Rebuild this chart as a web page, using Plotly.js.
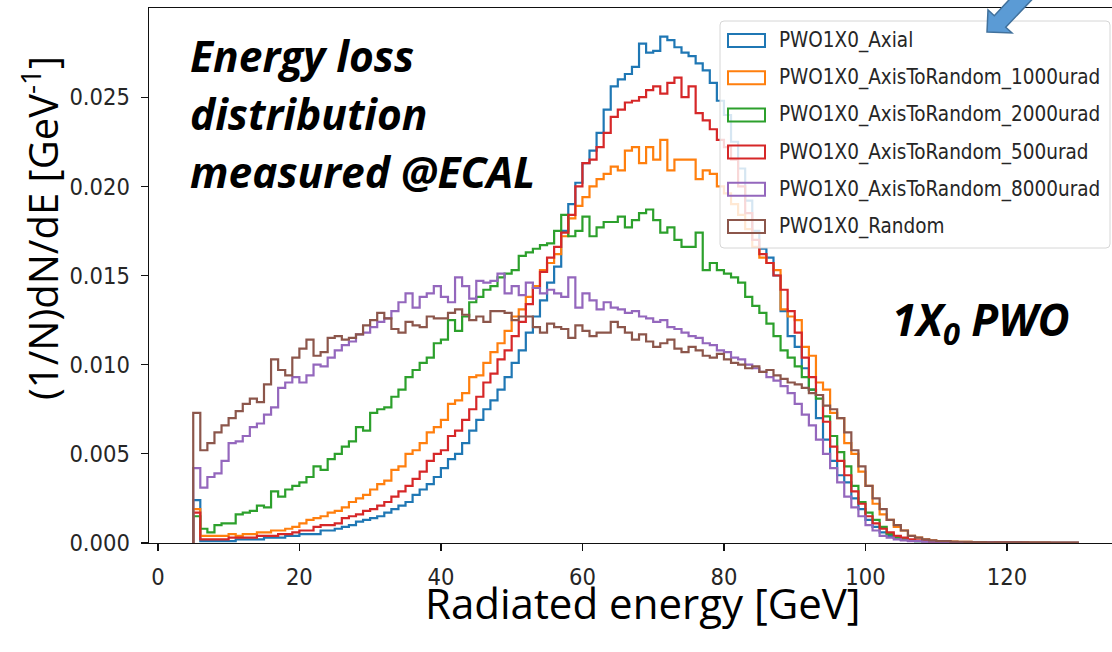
<!DOCTYPE html>
<html>
<head>
<meta charset="utf-8">
<script src="https://cdn.plot.ly/plotly-3.0.1.min.js"></script>
<style>
  html, body { margin: 0; padding: 0; background: #fff; overflow: hidden; }
  #chart { width: 1130px; height: 652px; }
</style>
</head>
<body>
<div id="chart"></div>
<script>
// Energy-loss histograms, 1 GeV bins from 5 to 130 GeV
const binStart = 5;
const binWidth = 1;

const seriesNames = [
  'PWO1X0_Axial',
  'PWO1X0_AxisToRandom_1000urad',
  'PWO1X0_AxisToRandom_2000urad',
  'PWO1X0_AxisToRandom_500urad',
  'PWO1X0_AxisToRandom_8000urad',
  'PWO1X0_Random'
];

const axial = [
  0.0024, 0.0001, 0.0001, 0.0001, 0.0001, 0.0001, 0.0002, 0.0002, 0.0002, 0.0002,
  0.0003, 0.0003, 0.0003, 0.0004, 0.0004, 0.0005, 0.0005, 0.0005, 0.0007, 0.0007,
  0.0008, 0.0009, 0.0010, 0.0012, 0.0013, 0.0014, 0.0015, 0.0017, 0.0019, 0.0021,
  0.0023, 0.0027, 0.0030, 0.0033, 0.0037, 0.0042, 0.0047, 0.0050, 0.0056, 0.0063,
  0.0069, 0.0075, 0.0080, 0.0086, 0.0093, 0.0101, 0.0108, 0.0118, 0.0127, 0.0136,
  0.0146, 0.0155, 0.0175, 0.0190, 0.0202, 0.0213, 0.0220, 0.0230, 0.0243, 0.0256,
  0.0260, 0.0263, 0.0267, 0.0280, 0.0275, 0.0276, 0.0284, 0.0282, 0.0278, 0.0275,
  0.0273, 0.0269, 0.0265, 0.0258, 0.0248, 0.0240, 0.0225, 0.0210, 0.0192, 0.0175,
  0.0165, 0.0160, 0.0150, 0.0130, 0.0116, 0.0110, 0.0098, 0.0086, 0.0070, 0.0058,
  0.0046, 0.0038, 0.0034, 0.0025, 0.0019, 0.0013, 0.0009, 0.0006, 0.0004, 0.0003,
  0.0002, 0.00015, 0.0001, 0.0001, 0.00008, 0.00007, 0.00006, 0.00005, 0.00005, 0.00004,
  0.00004, 0.00003, 0.00003, 0.00003, 0.00002, 0.00002, 0.00002, 0.00002, 0.00001, 0.00001,
  0.00001, 0.00001, 0.00001, 0.00001, 0.00001
];

const axisToRandom1000 = [
  0.0019, 0.0004, 0.0004, 0.0004, 0.0004, 0.0005, 0.0004, 0.0005, 0.0005, 0.0006,
  0.0006, 0.0007, 0.0007, 0.0008, 0.0009, 0.0011, 0.0013, 0.0014, 0.0015, 0.0017,
  0.0018, 0.0020, 0.0023, 0.0025, 0.0027, 0.0030, 0.0033, 0.0035, 0.0041, 0.0043,
  0.0050, 0.0052, 0.0056, 0.0062, 0.0065, 0.0069, 0.0078, 0.0080, 0.0084, 0.0093,
  0.0094, 0.0101, 0.0107, 0.0112, 0.0119, 0.0127, 0.0131, 0.0138, 0.0144, 0.0153,
  0.0157, 0.0162, 0.0172, 0.0182, 0.0189, 0.0194, 0.0200, 0.0204, 0.0207, 0.0211,
  0.0209, 0.0220, 0.0222, 0.0213, 0.0222, 0.0215, 0.0226, 0.0209, 0.0215, 0.0215,
  0.0215, 0.0204, 0.0209, 0.0207, 0.0200, 0.0196, 0.0190, 0.0184, 0.0176, 0.0166,
  0.0160, 0.0157, 0.0153, 0.0131, 0.0127, 0.0125, 0.0110, 0.0105, 0.0090, 0.0086,
  0.0073, 0.0070, 0.0056, 0.0050, 0.0040, 0.0032, 0.0022, 0.0016, 0.0013, 0.0009,
  0.0007, 0.0004, 0.0003, 0.0002, 0.00015, 0.0001, 0.0001, 0.00008, 0.00007, 0.00006,
  0.00005, 0.00005, 0.00004, 0.00004, 0.00003, 0.00003, 0.00003, 0.00002, 0.00002, 0.00002,
  0.00002, 0.00001, 0.00001, 0.00001, 0.00001
];

const axisToRandom2000 = [
  0.0015, 0.0008, 0.0006, 0.0010, 0.0011, 0.0011, 0.0016, 0.0017, 0.0018, 0.0021,
  0.0020, 0.0029, 0.0026, 0.0030, 0.0032, 0.0034, 0.0037, 0.0043, 0.0041, 0.0047,
  0.0050, 0.0054, 0.0057, 0.0065, 0.0063, 0.0073, 0.0075, 0.0076, 0.0082, 0.0086,
  0.0093, 0.0097, 0.0101, 0.0104, 0.0112, 0.0114, 0.0125, 0.0119, 0.0127, 0.0135,
  0.0138, 0.0142, 0.0144, 0.0149, 0.0151, 0.0153, 0.0161, 0.0163, 0.0165, 0.0167,
  0.0168, 0.0175, 0.0184, 0.0172, 0.0175, 0.0183, 0.0172, 0.0177, 0.0180, 0.0180,
  0.0183, 0.0177, 0.0181, 0.0185, 0.0187, 0.0181, 0.0174, 0.0177, 0.0170, 0.0166,
  0.0166, 0.0174, 0.0153, 0.0157, 0.0153, 0.0151, 0.0149, 0.0146, 0.0138, 0.0133,
  0.0129, 0.0123, 0.0116, 0.0108, 0.0104, 0.0099, 0.0093, 0.0086, 0.0081, 0.0071,
  0.0060, 0.0051, 0.0043, 0.0032, 0.0023, 0.0017, 0.0013, 0.0009, 0.0005, 0.0003,
  0.0002, 0.00015, 0.0001, 0.0001, 0.00008, 0.00007, 0.00006, 0.00005, 0.00005, 0.00004,
  0.00004, 0.00003, 0.00003, 0.00003, 0.00002, 0.00002, 0.00002, 0.00002, 0.00001, 0.00001,
  0.00001, 0.00001, 0.00001, 0.00001, 0.00001
];

const axisToRandom500 = [
  0.0017, 0.0002, 0.0002, 0.0002, 0.0002, 0.0003, 0.0003, 0.0003, 0.0003, 0.0004,
  0.0004, 0.0004, 0.0005, 0.0005, 0.0006, 0.0007, 0.0007, 0.0009, 0.0010, 0.0010,
  0.0011, 0.0014, 0.0015, 0.0016, 0.0018, 0.0019, 0.0021, 0.0023, 0.0026, 0.0029,
  0.0032, 0.0036, 0.0040, 0.0046, 0.0050, 0.0052, 0.0060, 0.0063, 0.0069, 0.0075,
  0.0082, 0.0090, 0.0095, 0.0103, 0.0108, 0.0116, 0.0124, 0.0134, 0.0143, 0.0152,
  0.0160, 0.0166, 0.0174, 0.0184, 0.0200, 0.0213, 0.0215, 0.0222, 0.0230, 0.0239,
  0.0243, 0.0247, 0.0248, 0.0250, 0.0254, 0.0256, 0.0252, 0.0258, 0.0261, 0.0250,
  0.0256, 0.0241, 0.0237, 0.0232, 0.0226, 0.0222, 0.0215, 0.0200, 0.0185, 0.0170,
  0.0162, 0.0157, 0.0150, 0.0142, 0.0130, 0.0118, 0.0104, 0.0093, 0.0083, 0.0068,
  0.0054, 0.0046, 0.0038, 0.0029, 0.0022, 0.0015, 0.0011, 0.0008, 0.0006, 0.0004,
  0.0003, 0.0002, 0.00015, 0.0001, 0.00008, 0.00007, 0.00006, 0.00005, 0.00005, 0.00004,
  0.00004, 0.00003, 0.00003, 0.00003, 0.00002, 0.00002, 0.00002, 0.00002, 0.00001, 0.00001,
  0.00001, 0.00001, 0.00001, 0.00001, 0.00001
];

const axisToRandom8000 = [
  0.0042, 0.0031, 0.0037, 0.0039, 0.0046, 0.0056, 0.0057, 0.0060, 0.0065, 0.0067,
  0.0072, 0.0076, 0.0087, 0.0090, 0.0093, 0.0090, 0.0094, 0.0100, 0.0099, 0.0104,
  0.0108, 0.0111, 0.0113, 0.0117, 0.0118, 0.0121, 0.0124, 0.0126, 0.0130, 0.0135,
  0.0140, 0.0132, 0.0138, 0.0140, 0.0144, 0.0138, 0.0135, 0.0149, 0.0144, 0.0137,
  0.0147, 0.0146, 0.0147, 0.0151, 0.0140, 0.0144, 0.0139, 0.0146, 0.0143, 0.0140,
  0.0142, 0.0140, 0.0138, 0.0149, 0.0132, 0.0140, 0.0136, 0.0131, 0.0135, 0.0132,
  0.0131, 0.0129, 0.0130, 0.0127, 0.0126, 0.0124, 0.0125, 0.0121, 0.0120, 0.0118,
  0.0116, 0.0115, 0.0112, 0.0111, 0.0108, 0.0107, 0.0104, 0.0103, 0.0100, 0.0098,
  0.0096, 0.0093, 0.0091, 0.0088, 0.0084, 0.0078, 0.0072, 0.0066, 0.0058, 0.0050,
  0.0042, 0.0034, 0.0026, 0.0020, 0.0015, 0.0010, 0.0007, 0.0004, 0.0003, 0.0002,
  0.00015, 0.0001, 0.0001, 0.00008, 0.00007, 0.00006, 0.00005, 0.00005, 0.00004, 0.00004,
  0.00003, 0.00003, 0.00003, 0.00002, 0.00002, 0.00002, 0.00002, 0.00001, 0.00001, 0.00001,
  0.00001, 0.00001, 0.00001, 0.00001, 0.00001
];

const random = [
  0.0073, 0.0052, 0.0056, 0.0062, 0.0066, 0.0070, 0.0074, 0.0078, 0.0081, 0.0079,
  0.0089, 0.0103, 0.0097, 0.0094, 0.0104, 0.0109, 0.0114, 0.0105, 0.0107, 0.0115,
  0.0116, 0.0114, 0.0115, 0.0117, 0.0122, 0.0125, 0.0129, 0.0126, 0.0120, 0.0118,
  0.0124, 0.0122, 0.0121, 0.0127, 0.0126, 0.0126, 0.0129, 0.0131, 0.0128, 0.0125,
  0.0127, 0.0124, 0.0130, 0.0130, 0.0129, 0.0125, 0.0127, 0.0127, 0.0121, 0.0118,
  0.0123, 0.0121, 0.0120, 0.0115, 0.0122, 0.0119, 0.0116, 0.0118, 0.0118, 0.0124,
  0.0121, 0.0118, 0.0114, 0.0117, 0.0113, 0.0110, 0.0112, 0.0114, 0.0109, 0.0107,
  0.0110, 0.0108, 0.0105, 0.0104, 0.0106, 0.0103, 0.0101, 0.0100, 0.0098, 0.0099,
  0.0096, 0.0097, 0.0094, 0.0092, 0.0090, 0.0089, 0.0087, 0.0084, 0.0083, 0.0077,
  0.0075, 0.0070, 0.0062, 0.0052, 0.0043, 0.0032, 0.0025, 0.0019, 0.0013, 0.0010,
  0.0007, 0.0004, 0.0003, 0.0002, 0.00015, 0.0001, 0.0001, 0.00008, 0.00007, 0.00006,
  0.00005, 0.00005, 0.00004, 0.00004, 0.00003, 0.00003, 0.00003, 0.00002, 0.00002, 0.00002,
  0.00002, 0.00001, 0.00001, 0.00001, 0.00001
];

const seriesValues = [axial, axisToRandom1000, axisToRandom2000, axisToRandom500, axisToRandom8000, random];
const seriesColors = ['#1f77b4', '#ff7f0e', '#2ca02c', '#d62728', '#9467bd', '#8c564b'];

const xTicks = [0, 20, 40, 60, 80, 100, 120];
const yTicks = [0.000, 0.005, 0.010, 0.015, 0.020, 0.025];
const yTickLabels = ['0.000', '0.005', '0.010', '0.015', '0.020', '0.025'];

// Unfilled step outline, like a 'step' histogram: up from zero at the first
// edge, across every bin, back down to zero at the last edge.
function stepOutline(values) {
  const xs = [binStart];
  const ys = [0];
  values.forEach((v, i) => { xs.push(binStart + i * binWidth); ys.push(v); });
  xs.push(binStart + values.length * binWidth);
  ys.push(0);
  return { xs, ys };
}

const traces = seriesValues.map((vals, i) => {
  const s = stepOutline(vals);
  return {
    type: 'scatter', mode: 'lines', name: seriesNames[i],
    x: s.xs, y: s.ys,
    line: { shape: 'hv', color: seriesColors[i], width: 2.2 },
    showlegend: false, hoverinfo: 'skip'
  };
});

// Plot-area geometry (pixels) used to place the legend box and decorations
const W = 1130, H = 652;
const M = { l: 149, r: 8, t: 8, b: 109 };
const plotW = W - M.l - M.r, plotH = H - M.t - M.b;
const px = x => (x - M.l) / plotW;
const py = y => (H - M.b - y) / plotH;

const tickFont = { family: '"DejaVu Sans Condensed", "DejaVu Sans", sans-serif', size: 23.5, color: '#262626' };
const legendFont = { family: '"DejaVu Sans Condensed", "DejaVu Sans", sans-serif', size: 20.5, color: '#262626' };
const slideFont = '"Open Sans", Lato, sans-serif';

const shapes = [];
const annotations = [];

// Legend frame, semi-transparent so the curves show through faintly
const lx0 = 720, lx1 = 1110, ly0 = 21, ly1 = 248, rr = 4;
shapes.push({
  type: 'path', xref: 'paper', yref: 'paper', layer: 'above',
  path: `M ${px(lx0 + rr)} ${py(ly0)} L ${px(lx1 - rr)} ${py(ly0)} Q ${px(lx1)} ${py(ly0)} ${px(lx1)} ${py(ly0 + rr)} ` +
        `L ${px(lx1)} ${py(ly1 - rr)} Q ${px(lx1)} ${py(ly1)} ${px(lx1 - rr)} ${py(ly1)} ` +
        `L ${px(lx0 + rr)} ${py(ly1)} Q ${px(lx0)} ${py(ly1)} ${px(lx0)} ${py(ly1 - rr)} ` +
        `L ${px(lx0)} ${py(ly0 + rr)} Q ${px(lx0)} ${py(ly0)} ${px(lx0 + rr)} ${py(ly0)} Z`,
  fillcolor: 'rgba(255,255,255,0.82)', line: { color: '#d6d6d6', width: 1 }
});

const rowFirst = 40.5, rowStep = 37.2;
seriesNames.forEach((name, i) => {
  const cy = rowFirst + i * rowStep;
  shapes.push({
    type: 'rect', xref: 'paper', yref: 'paper', layer: 'above',
    x0: px(728), x1: px(765), y0: py(cy + 6.5), y1: py(cy - 6.5),
    line: { color: seriesColors[i], width: 2 }, fillcolor: 'rgba(0,0,0,0)'
  });
  annotations.push({
    xref: 'paper', yref: 'paper', x: px(777), y: py(cy),
    xanchor: 'left', yanchor: 'middle', showarrow: false,
    text: name, font: legendFont
  });
});

// Block arrow pointing down-left into the legend
const arrowPts = [[987, 32], [1012, 33], [1005.7, 27.2], [1043, -12], [1020, -12], [994.3, 15.8], [988, 10]];
shapes.push({
  type: 'path', xref: 'paper', yref: 'paper', layer: 'above',
  path: 'M ' + arrowPts.map(p => `${px(p[0])} ${py(p[1])}`).join(' L ') + ' Z',
  fillcolor: '#5b9bd5', line: { color: '#41719c', width: 1.5 }
});

// Slide captions
const captionFont = { family: slideFont, size: 42.5, color: '#000000', weight: 'bold', style: 'italic' };
['Energy loss', 'distribution', 'measured @ECAL'].forEach((t, i) => {
  annotations.push({
    xref: 'paper', yref: 'paper', x: px(188), y: py(56 + i * 57.5),
    xanchor: 'left', yanchor: 'middle', showarrow: false, text: t, font: captionFont
  });
});
annotations.push({
  xref: 'paper', yref: 'paper', x: px(981), y: py(321),
  xanchor: 'center', yanchor: 'middle', showarrow: false,
  text: '1X<sub>0</sub> PWO', font: Object.assign({}, captionFont, { size: 44 })
});

// Axis titles
annotations.push({
  xref: 'paper', yref: 'paper', x: px(643), y: py(602),
  xanchor: 'center', yanchor: 'middle', showarrow: false,
  text: 'Radiated energy [GeV]', font: { family: slideFont, size: 42, color: '#000' }
});
annotations.push({
  xref: 'paper', yref: 'paper', x: px(40), y: py(228),
  xanchor: 'center', yanchor: 'middle', showarrow: false, textangle: -90,
  text: '(1/N)dN/dE [GeV<sup>-1</sup>]', font: { family: slideFont, size: 40, color: '#000' }
});

const layout = {
  width: W, height: H,
  margin: M,
  paper_bgcolor: '#ffffff', plot_bgcolor: '#ffffff',
  showlegend: false,
  xaxis: {
    range: [-1.25, 136.25], tickmode: 'array', tickvals: xTicks,
    ticks: 'outside', ticklen: 7, tickwidth: 1.3, tickcolor: '#111',
    showline: true, linecolor: '#111', linewidth: 1.4, mirror: true,
    showgrid: false, zeroline: false, tickfont: tickFont, ticklabelstandoff: 5,
    automargin: false
  },
  yaxis: {
    range: [0, 0.03], tickmode: 'array', tickvals: yTicks, ticktext: yTickLabels,
    ticks: 'outside', ticklen: 7, tickwidth: 1.3, tickcolor: '#111',
    showline: true, linecolor: '#111', linewidth: 1.4, mirror: true,
    showgrid: false, zeroline: false, tickfont: tickFont, ticklabelstandoff: 6,
    automargin: false
  },
  shapes: shapes,
  annotations: annotations
};

Plotly.newPlot('chart', traces, layout, { staticPlot: true, displayModeBar: false });
</script>
</body>
</html>
